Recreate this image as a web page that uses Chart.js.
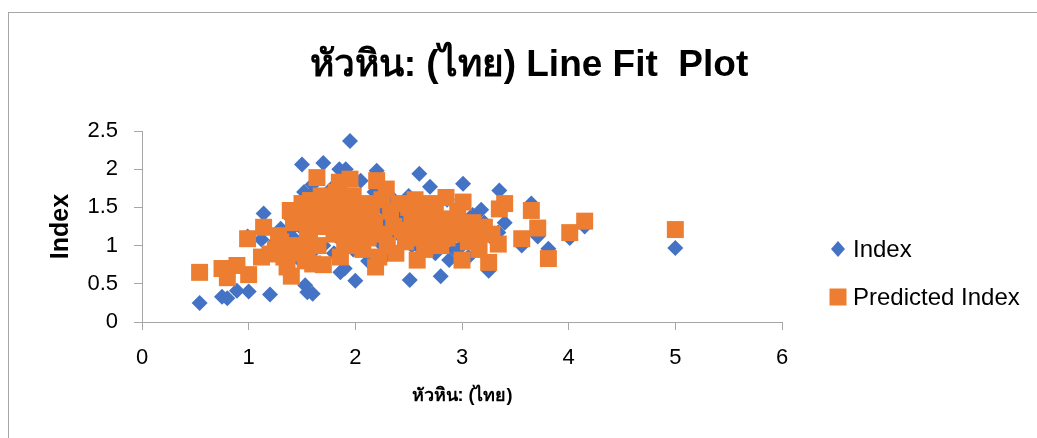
<!DOCTYPE html>
<html>
<head>
<meta charset="utf-8">
<script src="https://cdn.jsdelivr.net/npm/chart.js@4/dist/chart.umd.min.js"></script>
<style>
  html, body { margin: 0; padding: 0; background: #ffffff; }
  #wrap { position: relative; width: 1037px; height: 438px; }
</style>
</head>
<body>
<div id="wrap"><canvas id="fit"></canvas></div>
<script>
// Texts
const chartTitle = 'หัวหิน: (ไทย) Line Fit  Plot';
const xAxisTitle = 'หัวหิน: (ไทย)';
const yAxisTitle = 'Index';
const seriesNames = ['Index', 'Predicted Index'];

// Axis ranges and tick steps
const xTicks = [0, 1, 2, 3, 4, 5, 6];
const yTicks = [0, 0.5, 1, 1.5, 2, 2.5];

// Observations: explanatory value, observed index, predicted index
const xValues = [
  0.54, 0.75, 0.80, 0.89, 1.00, 0.99, 1.20, 1.14, 1.12, 1.28,
  1.36, 1.39, 1.50, 1.58, 1.53, 1.55, 1.60, 1.64, 1.70, 1.85,
  1.91, 1.95, 1.86, 2.00, 2.20, 2.29, 2.19, 2.51, 2.58, 2.60,
  2.70, 2.80, 2.85, 2.88, 3.01, 3.00, 3.18, 3.25, 3.34, 3.35,
  3.40, 3.56, 3.65, 3.71, 3.81, 4.01, 4.15, 5.00, 3.21,
  1.25, 1.30, 1.33, 1.40, 1.42, 1.45, 1.48, 1.52, 1.55, 1.57,
  1.60, 1.62, 1.65, 1.68, 1.70, 1.72, 1.75, 1.78, 1.80, 1.82,
  1.84, 1.88, 1.90, 1.92, 1.96, 1.98, 2.02, 2.05, 2.07, 2.10,
  2.12, 2.15, 2.18, 2.22, 2.25, 2.27, 2.30, 2.33, 2.36, 2.38,
  2.41, 2.44, 2.47, 2.50, 2.53, 2.56, 2.62, 2.65, 2.67, 2.72,
  2.75, 2.78, 2.82, 2.86, 2.90, 2.93, 2.96, 3.03, 3.06, 3.10,
  3.13, 3.16, 3.28
];
const indexValues = [
  0.25, 0.33, 0.31, 0.41, 0.40, 1.12, 0.36, 1.42, 1.08, 1.15,
  0.90, 1.20, 2.06, 1.65, 0.48, 0.39, 0.37, 1.55, 2.08, 2.00,
  2.00, 2.37, 0.65, 0.54, 1.98, 1.60, 0.75, 0.55, 1.20, 1.94,
  1.77, 0.60, 1.30, 0.81, 1.81, 1.00, 1.47, 0.67, 1.17, 1.72,
  1.30, 1.00, 1.55, 1.12, 0.96, 1.10, 1.25, 0.97, 1.30,
  1.05, 1.22, 0.95, 1.35, 1.10, 0.85, 1.25, 1.70, 1.40, 1.05,
  1.80, 0.95, 1.30, 1.60, 1.00, 1.45, 1.20, 1.75, 0.90, 1.50,
  1.10, 1.35, 0.70, 1.65, 1.20, 0.95, 1.55, 1.85, 1.00, 1.40,
  0.80, 1.25, 1.70, 1.05, 1.50, 0.85, 1.30, 1.15, 1.60, 0.90,
  1.45, 1.10, 1.35, 1.65, 1.00, 1.25, 0.95, 1.40, 1.10, 1.50,
  0.90, 1.30, 1.05, 1.60, 1.20, 0.95, 1.35, 1.15, 0.85, 1.40,
  1.00, 1.25, 1.10
];
const predictedValues = [
  0.65, 0.70, 0.58, 0.74, 0.62, 1.09, 0.89, 1.24, 0.85, 1.13,
  0.72, 1.46, 1.55, 1.59, 0.80, 0.95, 0.76, 1.89, 1.45, 1.83,
  1.50, 1.87, 0.85, 1.00, 1.85, 1.74, 0.72, 1.10, 0.81, 1.40,
  1.55, 1.00, 1.63, 1.20, 1.57, 0.81, 1.24, 0.78, 1.02, 1.48,
  1.55, 1.09, 1.46, 1.23, 0.83, 1.17, 1.32, 1.21, 1.24,
  0.95, 1.05, 0.85, 0.60, 1.30, 1.00, 0.90, 1.35, 1.20, 1.10,
  1.50, 1.30, 1.00, 1.65, 0.75, 1.25, 1.55, 1.40, 1.15, 1.70,
  1.35, 1.60, 1.05, 1.25, 1.45, 1.65, 1.35, 1.20, 0.95, 1.55,
  1.10, 1.40, 1.30, 0.85, 1.60, 1.15, 1.00, 1.45, 1.25, 0.90,
  1.55, 1.20, 1.05, 1.50, 1.30, 1.60, 1.15, 0.95, 1.35, 1.20,
  1.45, 1.05, 1.30, 1.10, 1.35, 1.15, 1.45, 1.25, 1.05, 1.30,
  1.10, 0.95, 1.15
];

const BLUE = '#4472C4';
const ORANGE = '#ED7D31';
const FONT = '"Liberation Sans", "DejaVu Sans", Arial, sans-serif';

const toPoints = (ys) => xValues.map((x, i) => ({ x: x, y: ys[i] }));

// Frame, title, axis titles and legend drawn onto the chart canvas
const decorations = {
  id: 'decorations',
  beforeDraw(chart) {
    const ctx = chart.ctx;
    ctx.save();
    ctx.fillStyle = '#ffffff';
    ctx.fillRect(0, 0, chart.width, chart.height);
    ctx.strokeStyle = '#a6a6a6';
    ctx.lineWidth = 1;
    ctx.strokeRect(8.5, 12.5, chart.width + 20, chart.height + 20);
    ctx.restore();
  },
  afterDraw(chart) {
    const ctx = chart.ctx;
    const area = chart.chartArea;
    ctx.save();
    ctx.fillStyle = '#000000';

    // Title
    ctx.font = 'bold 37px ' + FONT;
    ctx.textAlign = 'center';
    ctx.textBaseline = 'alphabetic';
    ctx.fillText(chartTitle, 529, 76);

    // Horizontal axis title
    ctx.font = 'bold 18px ' + FONT;
    ctx.textBaseline = 'middle';
    ctx.fillText(xAxisTitle, (area.left + area.right) / 2, 396);

    // Vertical axis title
    ctx.save();
    ctx.translate(61, (area.top + area.bottom) / 2);
    ctx.rotate(-Math.PI / 2);
    ctx.font = 'bold 25px ' + FONT;
    ctx.textAlign = 'center';
    ctx.textBaseline = 'middle';
    ctx.fillText(yAxisTitle, 0, 0);
    ctx.restore();

    // Legend
    const rows = [249, 297];
    chart.data.datasets.forEach((ds, i) => {
      const cy = rows[i];
      const cx = 838;
      ctx.fillStyle = ds.backgroundColor;
      if (ds.pointStyle === 'rectRot') {
        ctx.beginPath();
        ctx.moveTo(cx, cy - 8);
        ctx.lineTo(cx + 7, cy);
        ctx.lineTo(cx, cy + 8);
        ctx.lineTo(cx - 7, cy);
        ctx.closePath();
        ctx.fill();
      } else {
        ctx.fillRect(cx - 8.5, cy - 8.5, 17, 17);
      }
      ctx.fillStyle = '#000000';
      ctx.font = '24px ' + FONT;
      ctx.textAlign = 'left';
      ctx.textBaseline = 'middle';
      ctx.fillText(ds.label, 853, cy + 1);
    });
    ctx.restore();
  }
};

const gridStyle = {
  drawOnChartArea: false,
  drawTicks: true,
  tickLength: 8,
  color: '#a6a6a6',
  lineWidth: 1
};

new Chart(document.getElementById('fit'), {
  type: 'scatter',
  data: {
    datasets: [
      {
        label: seriesNames[0],
        data: toPoints(indexValues),
        backgroundColor: BLUE,
        borderColor: BLUE,
        borderWidth: 0,
        pointStyle: 'rectRot',
        pointRadius: 8,
        pointHoverRadius: 8,
        order: 1
      },
      {
        label: seriesNames[1],
        data: toPoints(predictedValues),
        backgroundColor: ORANGE,
        borderColor: ORANGE,
        borderWidth: 0,
        pointStyle: 'rect',
        pointRadius: 12,
        pointHoverRadius: 12,
        order: 0
      }
    ]
  },
  options: {
    responsive: true,
    maintainAspectRatio: false,
    animation: false,
    events: [],
    layout: { padding: { left: 82, right: 255, top: 131, bottom: 56 } },
    plugins: {
      legend: { display: false },
      title: { display: false },
      tooltip: { enabled: false }
    },
    scales: {
      x: {
        type: 'linear',
        min: xTicks[0],
        max: xTicks[xTicks.length - 1],
        afterFit(scale) { scale.height = 60; },
        afterBuildTicks(scale) { scale.ticks = xTicks.map(v => ({ value: v })); },
        grid: gridStyle,
        border: { display: true, color: '#a6a6a6', width: 1 },
        ticks: {
          font: { family: FONT, size: 22 },
          color: '#000000',
          padding: 15,
          maxRotation: 0,
          callback: (v) => String(v)
        }
      },
      y: {
        type: 'linear',
        min: yTicks[0],
        max: yTicks[yTicks.length - 1],
        afterFit(scale) { scale.width = 60; },
        afterBuildTicks(scale) { scale.ticks = yTicks.map(v => ({ value: v })); },
        grid: gridStyle,
        border: { display: true, color: '#a6a6a6', width: 1 },
        ticks: {
          font: { family: FONT, size: 22 },
          color: '#000000',
          padding: 16,
          callback: (v) => String(v)
        }
      }
    }
  },
  plugins: [decorations]
});
</script>
</body>
</html>
